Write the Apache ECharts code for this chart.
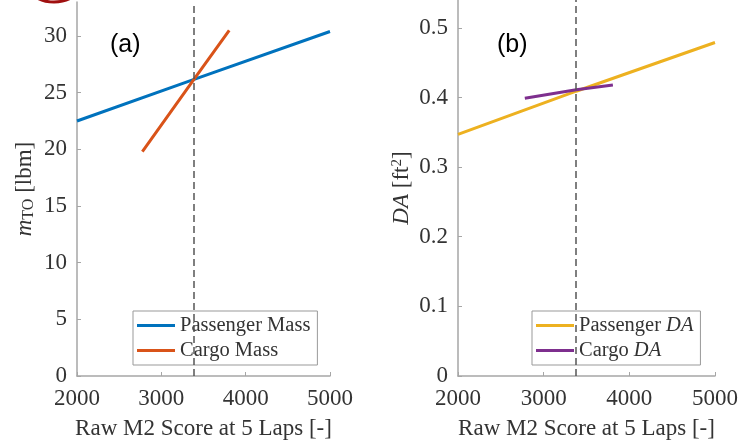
<!DOCTYPE html>
<html>
<head>
<meta charset="utf-8">
<script src="https://cdn.jsdelivr.net/npm/echarts@6/dist/echarts.min.js"></script>
<style>html,body{margin:0;padding:0;background:#fff}#c{width:750px;height:443px}</style>
</head>
<body>
<div id="c"></div>
<script>
// ---- data ----
const xTicks = [2000, 3000, 4000, 5000];
const massTicks = [0, 5, 10, 15, 20, 25, 30];
const daTicks = [0, 0.1, 0.2, 0.3, 0.4, 0.5];
const designScore = 3380;
const passengerMass = [[2000, 22.5], [3380, 26.15], [5000, 30.4]];
const cargoMass = [[2775, 19.8], [3380, 26.1], [3805, 30.5]];
const passengerDA = [[2000, 0.347], [3380, 0.409], [5000, 0.479]];
const cargoDA = [[2780, 0.399], [3380, 0.411], [3808, 0.418]];

const serif = 'Liberation Serif';
const txt = '#333';
const axisCol = '#a6a6a6';

function xAxis(idx) {
  return {
    gridIndex: idx, type: 'value', min: 2000, max: 5000, interval: 1000,
    name: 'Raw M2 Score at 5 Laps [-]', nameLocation: 'middle', nameGap: 41,
    nameTextStyle: { fontFamily: serif, fontSize: 23, color: txt },
    axisLine: { show: true, lineStyle: { color: axisCol, width: 1.5 } },
    axisTick: { show: true, inside: true, length: 4, customValues: xTicks, lineStyle: { color: axisCol } },
    axisLabel: { fontFamily: serif, fontSize: 23, color: txt, margin: 11, customValues: xTicks,
      formatter: v => String(v) },
    splitLine: { show: false }
  };
}
function yAxis(idx, max, ticks, name, rich, gap) {
  return {
    gridIndex: idx, type: 'value', min: 0, max: max,
    axisTick: { show: true, inside: true, length: 4, customValues: ticks, lineStyle: { color: axisCol } },
    axisLabel: { fontFamily: serif, fontSize: 23, color: txt, margin: 10, customValues: ticks,
      formatter: v => String(v) },
    name: name, nameLocation: 'middle', nameGap: gap, nameRotate: 90,
    nameTextStyle: { fontFamily: serif, fontSize: 23, color: txt, rich: rich },
    axisLine: { show: true, lineStyle: { color: axisCol, width: 1.5 } },
    splitLine: { show: false }
  };
}
const dash = {
  silent: true, symbol: 'none', label: { show: false },
  lineStyle: { color: '#555', width: 1.5, type: [7, 4] },
  data: [{ xAxis: designScore }]
};
function line(name, data, color, xi, withMark) {
  const s = {
    name: name, type: 'line', xAxisIndex: xi, yAxisIndex: xi, data: data,
    showSymbol: false, symbol: 'none', lineStyle: { color: color, width: 3 },
    itemStyle: { color: color }, animation: false, z: 3
  };
  if (withMark) s.markLine = dash;
  return s;
}
function legend(left, names) {
  return {
    left: left, top: 311, orient: 'vertical', data: names,
    backgroundColor: '#fff', borderColor: '#999', borderWidth: 1,
    padding: [4, 7, 4, 4], itemGap: 4, itemWidth: 38, itemHeight: 3, icon: 'rect',
    textStyle: { fontFamily: serif, fontSize: 20.5, color: txt,
      rich: { i: { fontFamily: serif, fontSize: 20.5, fontStyle: 'italic', color: txt } } },
    formatter: n => n.replace('DA', '{i|DA}')
  };
}

const chart = echarts.init(document.getElementById('c'));
chart.setOption({
  animation: false,
  grid: [
    { left: 77, width: 253, top: 2, height: 374, containLabel: false, outerBoundsMode: 'none' },
    { left: 458, width: 257, top: 0, height: 376, containLabel: false, outerBoundsMode: 'none' }
  ],
  xAxis: [xAxis(0), xAxis(1)],
  yAxis: [
    yAxis(0, 33, massTicks, '{m|m}{s|TO} [lbm]',
      { m: { fontFamily: serif, fontSize: 23, fontStyle: 'italic', color: txt },
        s: { fontFamily: serif, fontSize: 16, color: txt, verticalAlign: 'bottom', padding: [8, 0, 0, 0] } }, 40),
    yAxis(1, 0.54, daTicks, '{i|DA} [ft{p|2}]',
      { i: { fontFamily: serif, fontSize: 23, fontStyle: 'italic', color: txt },
        p: { fontFamily: serif, fontSize: 15, color: txt, verticalAlign: 'top', padding: [0, 0, 8, 0] } }, 45)
  ],
  legend: [legend(133, ['Passenger Mass', 'Cargo Mass']), legend(532, ['Passenger DA', 'Cargo DA'])],
  series: [
    line('Passenger Mass', passengerMass, '#0072BD', 0, true),
    line('Cargo Mass', cargoMass, '#D95319', 0, false),
    line('Passenger DA', passengerDA, '#EDB120', 1, true),
    line('Cargo DA', cargoDA, '#7E2F8E', 1, false)
  ],
  graphic: [
    { type: 'text', left: 110, top: 33, style: { text: '(a)', font: '25px "Liberation Sans"', fill: '#000' } },
    { type: 'text', left: 497, top: 33, style: { text: '(b)', font: '25px "Liberation Sans"', fill: '#000' } },
    { type: 'ellipse', shape: { cx: 54, cy: -12, rx: 24, ry: 14 }, style: { fill: 'none', stroke: '#a01010', lineWidth: 3 } }
  ]
});
</script>
</body>
</html>
